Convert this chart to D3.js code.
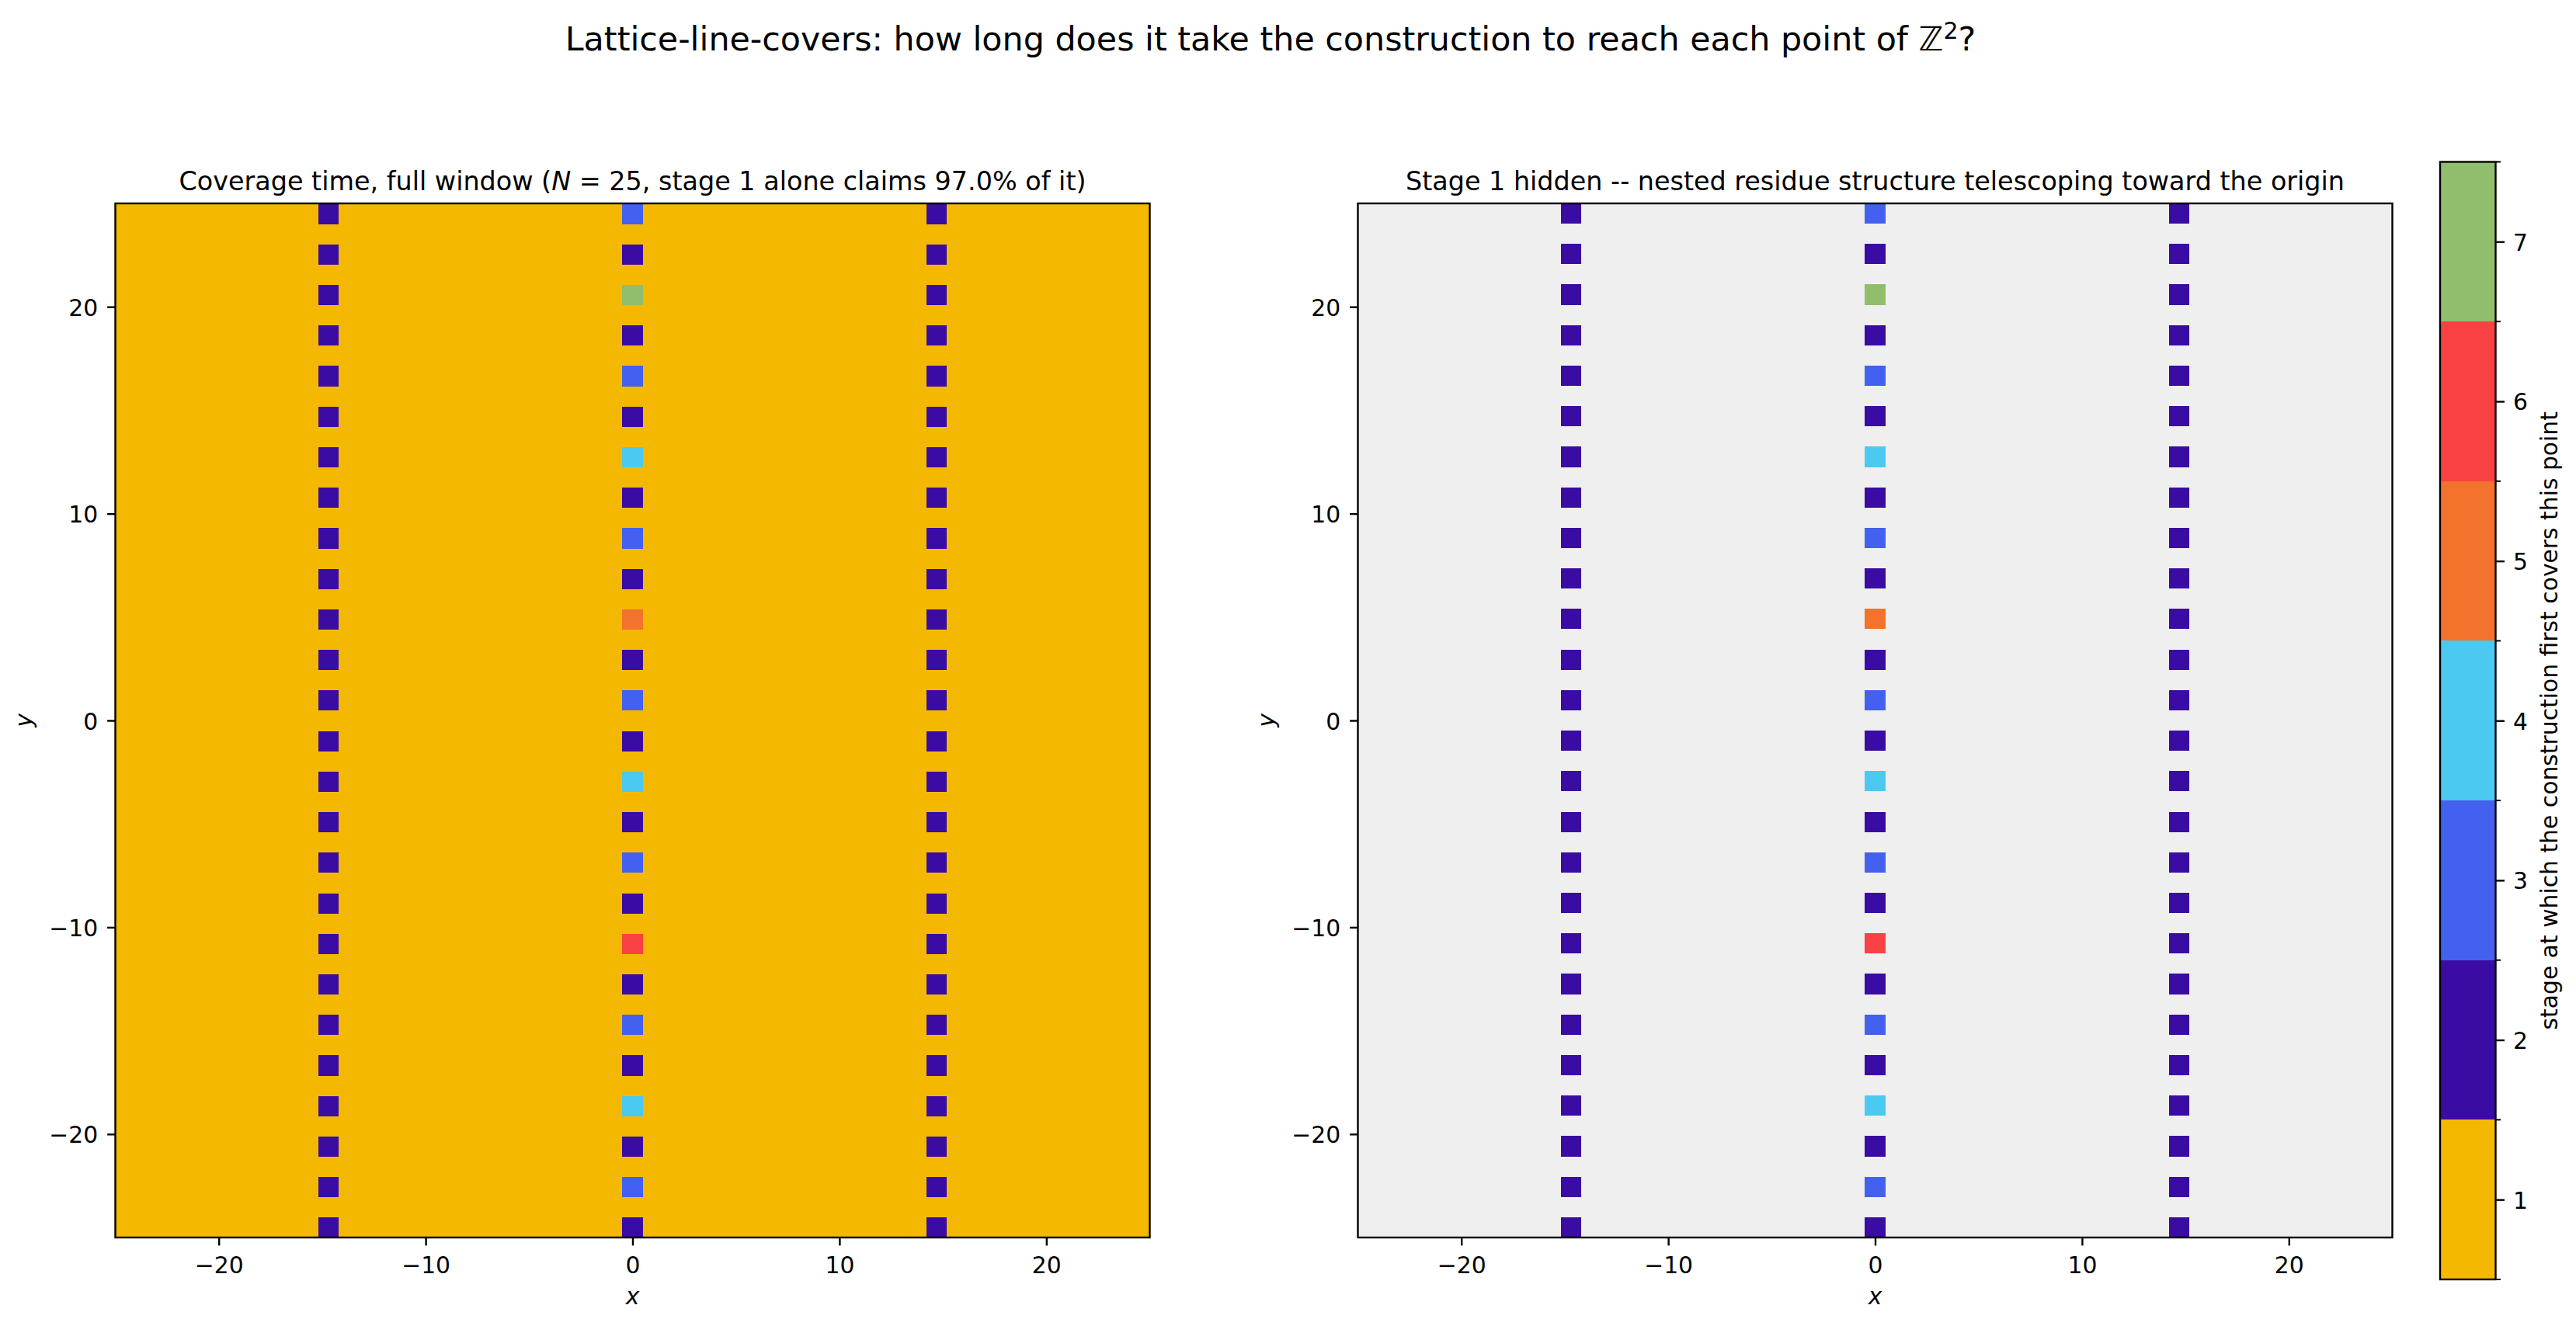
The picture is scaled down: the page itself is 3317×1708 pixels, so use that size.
<!DOCTYPE html>
<html>
<head>
<meta charset="utf-8">
<script src="https://cdn.jsdelivr.net/npm/d3@7"></script>
<style>
  html, body { margin: 0; padding: 0; background: #ffffff; }
  svg { display: block; font-family: "DejaVu Sans", sans-serif; }
</style>
</head>
<body>
<svg id="chart" width="3317" height="1708"></svg>
<script>
// ---------------- data ----------------
// lattice window: integer points from -25 to 25 on each axis
const latticeCoords = [-25,-24,-23,-22,-21,-20,-19,-18,-17,-16,-15,-14,-13,-12,-11,-10,-9,-8,-7,-6,-5,-4,-3,-2,-1,
  0,1,2,3,4,5,6,7,8,9,10,11,12,13,14,15,16,17,18,19,20,21,22,23,24,25];
// columns where stage > 1 occurs, and the rows (odd y, top to bottom) on them
const lineColumns = [-15, 0, 15];
const oddRows = [25,23,21,19,17,15,13,11,9,7,5,3,1,-1,-3,-5,-7,-9,-11,-13,-15,-17,-19,-21,-23,-25];
const stageColMinus15 = [2,2,2,2,2,2,2,2,2,2,2,2,2,2,2,2,2,2,2,2,2,2,2,2,2,2];
const stageCol0       = [3,2,7,2,3,2,4,2,3,2,5,2,3,2,4,2,3,2,6,2,3,2,4,2,3,2];
const stageColPlus15  = [2,2,2,2,2,2,2,2,2,2,2,2,2,2,2,2,2,2,2,2,2,2,2,2,2,2];
const defaultStage = 1;
const stageTicks = [1,2,3,4,5,6,7];
const stageColors = ["#f5b800","#3a0ca3","#4361ee","#4cc9f0","#f3722c","#f94144","#90be6d"];
const axisTicks = [-20,-10,0,10,20];

// ---------------- build grid table ----------------
const columnStages = { "-15": stageColMinus15, "0": stageCol0, "15": stageColPlus15 };
const cells = [];
latticeCoords.forEach(x => {
  latticeCoords.forEach(y => {
    let s = defaultStage;
    if (lineColumns.includes(x)) {
      const idx = oddRows.indexOf(y);
      if (idx >= 0) s = columnStages[String(x)][idx];
    }
    cells.push({x, y, stage: s});
  });
});

// ---------------- layout ----------------
const FONT = 29.8, TITLE = 33.4, SUP = 42.8;
const TOP = 262, SIZE = 1332;
const panels = [
  { left: 148.5, hide1: false, bg: null },
  { left: 1748.5, hide1: true, bg: "#efefef" }
];
const color = d3.scaleOrdinal().domain(stageTicks).range(stageColors);

const svg = d3.select("#chart");

// suptitle
const sup = svg.append("text").attr("x", 1636).attr("y", 65)
  .attr("text-anchor", "middle").attr("font-size", SUP).attr("fill", "#000");
sup.append("tspan").text("Lattice-line-covers: how long does it take the construction to reach each point of ");
sup.append("tspan").text("\u2124");
sup.append("tspan").attr("dy", -15).attr("font-size", SUP * 0.7).text("2");
sup.append("tspan").attr("dy", 15).text("?");

panels.forEach((p, pi) => {
  const xb = d3.scaleBand().domain(latticeCoords).range([p.left, p.left + SIZE]).paddingInner(0).paddingOuter(0);
  const yb = d3.scaleBand().domain(latticeCoords.slice().reverse()).range([TOP, TOP + SIZE]).paddingInner(0).paddingOuter(0);
  const xl = d3.scaleLinear().domain([-25, 25]).range([p.left, p.left + SIZE]);
  const yl = d3.scaleLinear().domain([-25, 25]).range([TOP + SIZE, TOP]);

  const g = svg.append("g");
  if (p.bg) {
    g.append("rect").attr("x", p.left).attr("y", TOP).attr("width", SIZE).attr("height", SIZE).attr("fill", p.bg);
  }
  const data = p.hide1 ? cells.filter(d => d.stage !== 1) : cells;
  g.append("g").attr("shape-rendering", "crispEdges")
    .selectAll("rect").data(data).join("rect")
    .attr("x", d => xb(d.x)).attr("y", d => yb(d.y))
    .attr("width", xb.bandwidth() + (p.hide1 ? 0 : 0.5)).attr("height", yb.bandwidth() + (p.hide1 ? 0 : 0.5))
    .attr("fill", d => color(d.stage));

  // axes
  const ax = g.append("g").attr("transform", `translate(0,${TOP + SIZE})`)
    .call(d3.axisBottom(xl).tickValues(axisTicks).tickSize(10.4).tickPadding(14));
  const ay = g.append("g").attr("transform", `translate(${p.left},0)`)
    .call(d3.axisLeft(yl).tickValues(axisTicks).tickSize(10.4).tickPadding(12));
  [ax, ay].forEach(a => {
    a.select(".domain").remove();
    a.selectAll("line").attr("stroke", "#000").attr("stroke-width", 2.4);
    a.selectAll("text").attr("font-size", FONT).attr("font-family", "DejaVu Sans").attr("fill", "#000");
  });
  ay.selectAll("text").attr("dy", "0.37em");

  // frame
  g.append("rect").attr("x", p.left).attr("y", TOP).attr("width", SIZE).attr("height", SIZE)
    .attr("fill", "none").attr("stroke", "#000").attr("stroke-width", 2.4);

  // axis labels
  g.append("text").attr("x", p.left + SIZE / 2).attr("y", 1680).attr("text-anchor", "middle")
    .attr("font-size", FONT).attr("font-style", "italic").text("x");
  g.append("text").attr("transform", `translate(${p.left - 107.5},${TOP + SIZE / 2}) rotate(-90)`)
    .attr("text-anchor", "middle").attr("font-size", FONT).attr("font-style", "italic").text("y");

  // title
  const t = g.append("text").attr("x", p.left + SIZE / 2).attr("y", 245).attr("text-anchor", "middle")
    .attr("font-size", TITLE);
  if (pi === 0) {
    t.append("tspan").text("Coverage time, full window (");
    t.append("tspan").attr("font-style", "italic").text("N");
    t.append("tspan").text(" = 25, stage 1 alone claims 97.0% of it)");
  } else {
    t.text("Stage 1 hidden -- nested residue structure telescoping toward the origin");
  }
});

// ---------------- colorbar ----------------
const CB_L = 3142, CB_W = 71.5, CB_T = 208.5, CB_B = 1648;
const cb = d3.scaleLinear().domain([0.5, 7.5]).range([CB_B, CB_T]);
const cg = svg.append("g");
cg.append("g").attr("shape-rendering", "crispEdges").selectAll("rect").data(stageTicks).join("rect")
  .attr("x", CB_L).attr("width", CB_W)
  .attr("y", d => cb(d + 0.5)).attr("height", d => cb(d - 0.5) - cb(d + 0.5))
  .attr("fill", d => color(d));
// minor ticks at bin edges
const edges = stageTicks.map(s => s - 0.5).concat([stageTicks[stageTicks.length - 1] + 0.5]);
cg.selectAll("line.minor").data(edges).join("line").attr("class", "minor")
  .attr("x1", CB_L + CB_W).attr("x2", CB_L + CB_W + 6.5)
  .attr("y1", d => cb(d)).attr("y2", d => cb(d))
  .attr("stroke", "#000").attr("stroke-width", 2.0);
const cax = cg.append("g").attr("transform", `translate(${CB_L + CB_W},0)`)
  .call(d3.axisRight(cb).tickValues(stageTicks).tickSize(11.5).tickPadding(11).tickFormat(d3.format("d")));
cax.select(".domain").remove();
cax.selectAll("line").attr("stroke", "#000").attr("stroke-width", 2.4);
cax.selectAll("text").attr("font-size", FONT).attr("font-family", "DejaVu Sans").attr("fill", "#000").attr("dy", "0.37em");
cg.append("rect").attr("x", CB_L).attr("y", CB_T).attr("width", CB_W).attr("height", CB_B - CB_T)
  .attr("fill", "none").attr("stroke", "#000").attr("stroke-width", 2.4);
cg.append("text").attr("transform", `translate(3293,${(CB_T + CB_B) / 2}) rotate(-90)`)
  .attr("text-anchor", "middle").attr("font-size", FONT).attr("fill", "#000")
  .text("stage at which the construction first covers this point");
</script>
</body>
</html>
